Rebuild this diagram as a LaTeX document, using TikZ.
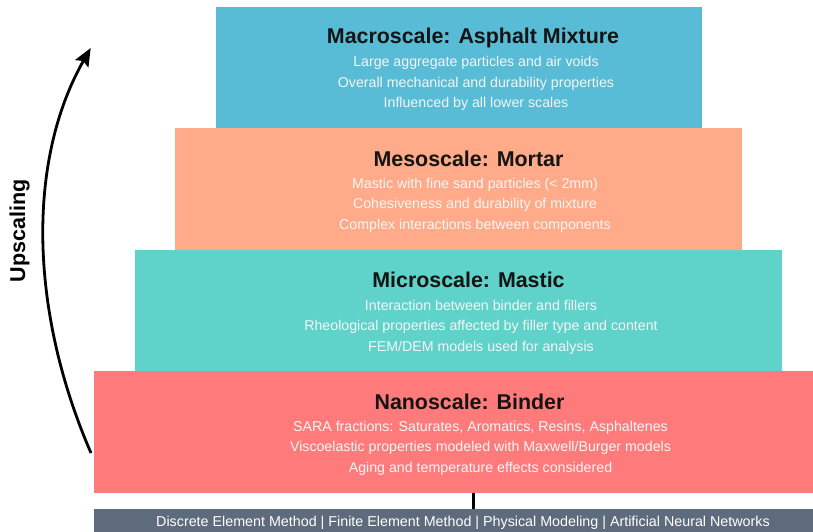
\documentclass[tikz,border=0pt]{standalone}
\usepackage{fontspec}
\setmainfont{Liberation Sans}
\usetikzlibrary{arrows.meta}

\definecolor{macroblue}{HTML}{58BCD6}
\definecolor{mesosalmon}{HTML}{FFAA88}
\definecolor{microteal}{HTML}{5FD3C9}
\definecolor{nanored}{HTML}{FF7B7B}
\definecolor{methodgray}{HTML}{5E6B7C}
\definecolor{bodytext}{HTML}{F4F6F7}

\tikzset{
  tier/.style={draw=none, inner sep=0pt, anchor=north, minimum height=#1},
  tiertitle/.style={font=\fontsize{21.4}{25}\selectfont\bfseries, text=black!92, inner sep=0pt, anchor=center},
  tierbody/.style={font=\fontsize{14.2}{20.6}\selectfont, text=bodytext, align=center, inner sep=0pt, anchor=center},
  methodtext/.style={font=\fontsize{14.3}{16}\selectfont, text=white, inner sep=0pt},
  link/.style={line width=3pt, black},
  upflow/.style={line width=2.8pt, black, -{Stealth[length=18pt, width=15pt, inset=3pt]}},
}

\begin{document}
\begin{tikzpicture}[x=1pt, y=-1pt]
  \useasboundingbox (0,0) rectangle (813,532);
  \clip (0,0) rectangle (813,532);

  % the four scale tiers, stacked as a pyramid
  \node[tier=121pt, fill=macroblue,  minimum width=486pt] (macro) at (459,7)   {};
  \node[tier=122pt, fill=mesosalmon, minimum width=567pt] (meso)  at (458.5,128) {};
  \node[tier=121pt, fill=microteal,  minimum width=647pt] (micro) at (458.5,250) {};
  \node[tier=122pt, fill=nanored,    minimum width=729pt] (nano)  at (458.5,371) {};

  % modelling methods bar
  \node[tier=28pt, fill=methodgray, minimum width=738pt] (methods) at (463,509) {};
  \node[methodtext] (methodlist) at (463,522.5)
    {Discrete Element Method | Finite Element Method | Physical Modeling | Artificial Neural Networks};

  % titles
  \node[tiertitle] (macrotitle) at (473,37.5)  {Macroscale: Asphalt Mixture};
  \node[tiertitle] (mesotitle)  at (468.5,158.5) {Mesoscale: Mortar};
  \node[tiertitle] (microtitle) at (468.5,279.5) {Microscale: Mastic};
  \node[tiertitle] (nanotitle)  at (469.5,401.5) {Nanoscale: Binder};

  % descriptions
  \node[tierbody] (macrobody) at (476,83.5)
    {Large aggregate particles and air voids\\Overall mechanical and durability properties\\Influenced by all lower scales};
  \node[tierbody] (mesobody) at (475,205)
    {Mastic with fine sand particles (< 2mm)\\Cohesiveness and durability of mixture\\Complex interactions between components};
  \node[tierbody] (microbody) at (481,327)
    {Interaction between binder and fillers\\Rheological properties affected by filler type and content\\FEM/DEM models used for analysis};
  \node[tierbody] (nanobody) at (480.5,448)
    {SARA fractions: Saturates, Aromatics, Resins, Asphaltenes\\Viscoelastic properties modeled with Maxwell/Burger models\\Aging and temperature effects considered};

  % link from the binder tier down to the methods bar
  \draw[link] ([xshift=15pt]nano.south) -- ([xshift=10.5pt]methods.north);

  % upscaling arrow
  \coordinate (upstart) at (91,453);
  \coordinate (upend)   at (90.7,48);
  \draw[upflow] (upstart) .. controls (29,310) and (27,160) .. (upend);
  \node[rotate=90, font=\fontsize{21.5}{24}\selectfont\bfseries, inner sep=0pt] (uplabel) at (19.5,231) {Upscaling};
\end{tikzpicture}
\end{document}
